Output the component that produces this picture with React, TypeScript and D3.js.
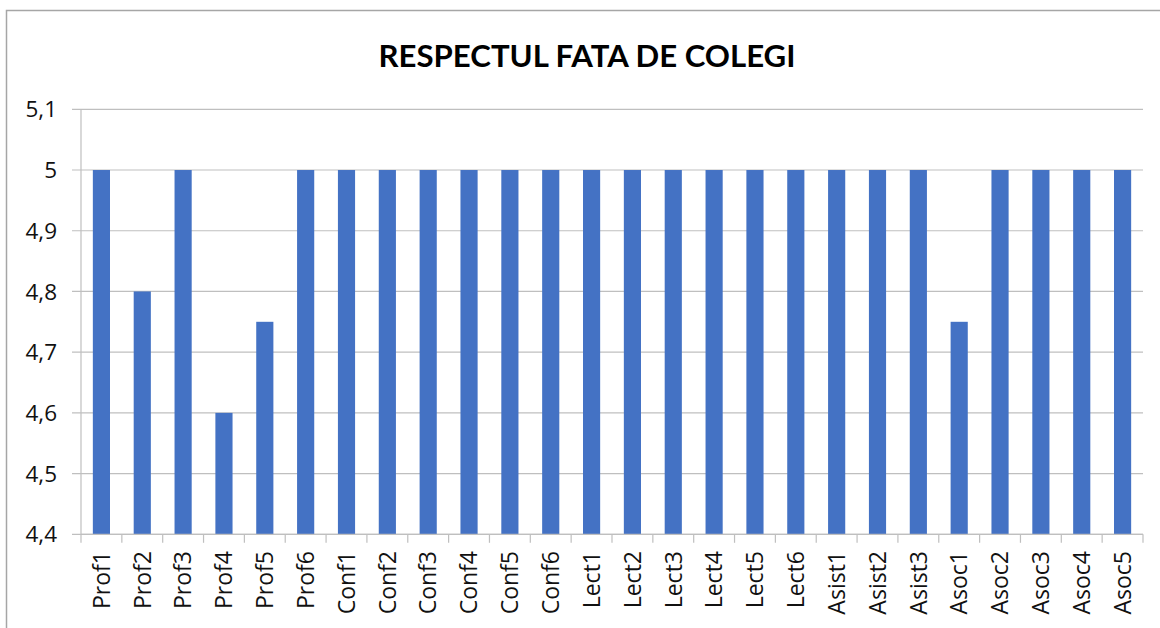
import React from "react";
import * as d3 from "d3";

// categories and values
const categories = [
  "Prof1", "Prof2", "Prof3", "Prof4", "Prof5", "Prof6",
  "Conf1", "Conf2", "Conf3", "Conf4", "Conf5", "Conf6",
  "Lect1", "Lect2", "Lect3", "Lect4", "Lect5", "Lect6",
  "Asist1", "Asist2", "Asist3",
  "Asoc1", "Asoc2", "Asoc3", "Asoc4", "Asoc5",
];
const values = [
  5, 4.8, 5, 4.6, 4.75, 5,
  5, 5, 5, 5, 5, 5,
  5, 5, 5, 5, 5, 5,
  5, 5, 5,
  4.75, 5, 5, 5, 5,
];
const yTicks = [4.4, 4.5, 4.6, 4.7, 4.8, 4.9, 5, 5.1];
const title = "RESPECTUL FATA DE COLEGI";

const width = 1160;
const height = 628;
const margin = { top: 109.3, right: 17, bottom: 93.7, left: 81 };
const titleFont = "Lato, 'Open Sans', sans-serif";
const font = "'Open Sans', Lato, sans-serif";

const roFormat = d3.formatLocale({
  decimal: ",",
  thousands: ".",
  grouping: [3],
  currency: ["", " lei"],
}).format(".1~f");

export default function App() {
  const x = d3
    .scaleBand()
    .domain(categories)
    .range([margin.left, width - margin.right])
    .paddingInner(0.58)
    .paddingOuter(0.29);

  const y = d3
    .scaleLinear()
    .domain([4.4, 5.1])
    .range([height - margin.bottom, margin.top]);

  const step = x.step();
  const x0 = margin.left;
  const x1 = width - margin.right;
  const yBase = y(4.4);

  return (
    <div style={{ position: "absolute", left: 0, top: 0 }}>
      <svg width={width} height={height} style={{ display: "block", background: "#fff" }}>
        {/* chart border, runs off the right and bottom */}
        <rect x={6.5} y={10.5} width={1300} height={800} fill="#fff" stroke="#a6a6a6" strokeWidth={1.5} />

        <text
          x={587}
          y={66.5}
          textAnchor="middle"
          fontFamily={titleFont}
          fontWeight="bold"
          fontSize={31}
          fill="#000"
          textLength={417}
          lengthAdjust="spacingAndGlyphs"
        >
          {title}
        </text>

        {/* gridlines */}
        {yTicks.map((t) => (
          <line key={t} x1={x0 - 9} x2={x1} y1={y(t)} y2={y(t)} stroke="#bfbfbf" strokeWidth={1.2} />
        ))}

        {/* y tick labels */}
        {yTicks.map((t) => (
          <text
            key={"l" + t}
            x={57}
            y={y(t)}
            dy="0.36em"
            textAnchor="end"
            fontFamily={font}
            fontSize={22.5}
            fill="#111"
          >
            {roFormat(t)}
          </text>
        ))}

        {/* y axis */}
        <line x1={x0} x2={x0} y1={margin.top} y2={yBase} stroke="#bfbfbf" strokeWidth={1.2} />

        {/* bars */}
        {categories.map((c, i) => (
          <rect
            key={c}
            x={x(c)}
            y={y(values[i])}
            width={x.bandwidth()}
            height={yBase - y(values[i])}
            fill="#4472c4"
          />
        ))}

        {/* x axis + ticks between categories */}
        <line x1={x0} x2={x1} y1={yBase} y2={yBase} stroke="#bfbfbf" strokeWidth={1.2} />
        {d3.range(categories.length + 1).map((i) => (
          <line
            key={"t" + i}
            x1={x0 + i * step}
            x2={x0 + i * step}
            y1={yBase}
            y2={yBase + 8.5}
            stroke="#bfbfbf"
            strokeWidth={1.2}
          />
        ))}

        {/* x labels, rotated */}
        {categories.map((c) => {
          const cx = (x(c) ?? 0) + x.bandwidth() / 2;
          return (
            <text
              key={"x" + c}
              transform={`translate(${cx},551) rotate(-90)`}
              dy="0.36em"
              textAnchor="end"
              fontFamily={font}
              fontSize={23}
              fill="#111"
            >
              {c}
            </text>
          );
        })}
      </svg>
    </div>
  );
}
